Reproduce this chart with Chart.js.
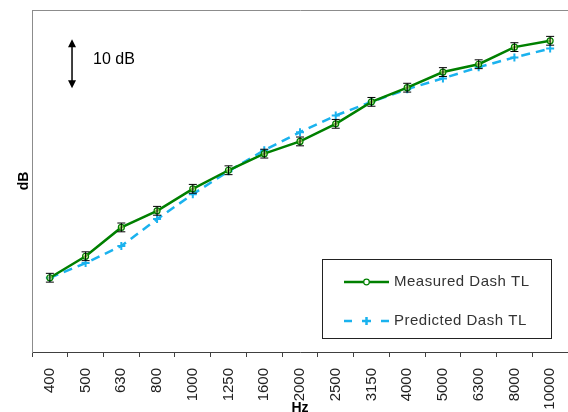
<!DOCTYPE html>
<html lang="en">
<head>
  <meta charset="UTF-8">
  <title>Dash TL</title>
  <style>
    html, body { margin: 0; padding: 0; background: #fff; }
    #chart { display: block; }
  </style>
</head>
<body>
  <canvas id="chart" width="568" height="412"></canvas>

  <script src="https://cdn.jsdelivr.net/npm/chart.js@4.4.1/dist/chart.umd.min.js"></script>
  <script>
    // third-octave bands, values in dB (y axis has no tick labels, only the 10 dB marker)
    const freqs = ['400', '500', '630', '800', '1000', '1250', '1600', '2000', '2500', '3150', '4000', '5000', '6300', '8000', '10000'];
    const measured = [15.2, 19.6, 25.5, 28.9, 33.4, 37.2, 40.6, 43.1, 46.7, 51.2, 54.1, 57.3, 58.9, 62.4, 63.7];
    const measuredErr = [0.9, 0.9, 0.9, 0.9, 0.9, 0.9, 0.9, 0.9, 0.9, 0.9, 0.9, 0.9, 0.9, 0.9, 0.9];
    const predicted = [15.2, 18.2, 21.7, 27.2, 32.3, 37.0, 41.3, 45.0, 48.4, 51.2, 53.8, 56.0, 58.3, 60.3, 62.1];
    const scaleMark = [54, 64]; // the "10 dB" arrow

    const FONT = '"Liberation Sans", Arial, sans-serif';
    const GREEN = '#008000';
    const BLUE = '#1ab2ee';

    const errorBars = {
      id: 'errorBars',
      afterDatasetsDraw(chart) {
        const {ctx, scales: {y}} = chart;
        const meta = chart.getDatasetMeta(0);
        ctx.save();
        ctx.strokeStyle = '#000';
        ctx.lineWidth = 1;
        meta.data.forEach((pt, i) => {
          const top = y.getPixelForValue(measured[i] + measuredErr[i]);
          const bot = y.getPixelForValue(measured[i] - measuredErr[i]);
          ctx.beginPath();
          ctx.moveTo(pt.x, top); ctx.lineTo(pt.x, bot);
          ctx.moveTo(pt.x - 4, top); ctx.lineTo(pt.x + 4, top);
          ctx.moveTo(pt.x - 4, bot); ctx.lineTo(pt.x + 4, bot);
          ctx.stroke();
        });
        ctx.restore();
      }
    };

    const extras = {
      id: 'extras',
      afterDraw(chart) {
        const {ctx, chartArea: a, scales: {x, y}} = chart;
        ctx.save();

        // 10 dB marker
        const ax = x.getPixelForValue(0.62);
        const y1 = y.getPixelForValue(scaleMark[1]);
        const y0 = y.getPixelForValue(scaleMark[0]);
        ctx.strokeStyle = '#000';
        ctx.fillStyle = '#000';
        ctx.lineWidth = 1.5;
        ctx.beginPath();
        ctx.moveTo(ax, y1 + 6); ctx.lineTo(ax, y0 - 6);
        ctx.stroke();
        ctx.beginPath();
        ctx.moveTo(ax, y1); ctx.lineTo(ax - 4, y1 + 8); ctx.lineTo(ax + 4, y1 + 8); ctx.closePath();
        ctx.moveTo(ax, y0); ctx.lineTo(ax - 4, y0 - 8); ctx.lineTo(ax + 4, y0 - 8); ctx.closePath();
        ctx.fill();
        ctx.font = '16px ' + FONT;
        ctx.textBaseline = 'middle';
        ctx.fillText('10 dB', ax + 21, (y0 + y1) / 2 - 4);

        // legend box
        const bx = a.right - 246, by = a.bottom - 93;
        ctx.fillStyle = '#fff';
        ctx.fillRect(bx, by, 229, 79);
        ctx.strokeStyle = '#222';
        ctx.lineWidth = 1;
        ctx.strokeRect(bx + 0.5, by + 0.5, 229, 79);

        const lx = bx + 22, r1 = by + 23, r2 = by + 62;
        ctx.strokeStyle = GREEN;
        ctx.lineWidth = 2.5;
        ctx.beginPath(); ctx.moveTo(lx, r1); ctx.lineTo(lx + 45, r1); ctx.stroke();
        ctx.lineWidth = 1.2;
        ctx.fillStyle = '#fff';
        ctx.beginPath(); ctx.arc(lx + 22.5, r1, 2.8, 0, Math.PI * 2); ctx.fill(); ctx.stroke();

        ctx.strokeStyle = BLUE;
        ctx.lineWidth = 2.5;
        ctx.beginPath();
        ctx.moveTo(lx, r2); ctx.lineTo(lx + 8, r2);
        ctx.moveTo(lx + 37, r2); ctx.lineTo(lx + 45, r2);
        ctx.moveTo(lx + 18, r2); ctx.lineTo(lx + 27, r2);
        ctx.moveTo(lx + 22.5, r2 - 4); ctx.lineTo(lx + 22.5, r2 + 4);
        ctx.stroke();

        ctx.fillStyle = '#333';
        ctx.font = '15px ' + FONT;
        ctx.letterSpacing = '0.5px';
        ctx.textBaseline = 'middle';
        ctx.fillText('Measured Dash TL', lx + 50, r1);
        ctx.fillText('Predicted Dash TL', lx + 50, r2);

        ctx.restore();
      }
    };

    const chart = new Chart(document.getElementById('chart'), {
      type: 'line',
      data: {
        labels: freqs,
        datasets: [{
          label: 'Measured Dash TL',
          data: measured,
          borderColor: GREEN,
          borderWidth: 2.5,
          pointStyle: 'circle',
          pointRadius: 3,
          pointBorderWidth: 1.2,
          pointBorderColor: GREEN,
          pointBackgroundColor: 'rgba(200,230,120,0.6)',
          tension: 0
        }, {
          label: 'Predicted Dash TL',
          data: predicted,
          borderColor: BLUE,
          borderWidth: 2.5,
          borderDash: [9, 6],
          pointStyle: 'cross',
          pointRadius: 4,
          pointBorderWidth: 2,
          pointBorderColor: BLUE,
          tension: 0
        }]
      },
      options: {
        responsive: false,
        animation: false,
        events: [],
        layout: { autoPadding: false, padding: { left: 0, top: 10, right: -1, bottom: -6 } },
        plugins: { legend: { display: false }, tooltip: { enabled: false } },
        scales: {
          x: {
            offset: true,
            afterFit(s) { s.height = 66; s.paddingLeft = 0; s.paddingRight = 0; },
            grid: { display: true, offset: true, drawOnChartArea: false, drawTicks: true, tickLength: 5, color: '#404040' },
            border: { color: '#404040', width: 1 },
            ticks: {
              autoSkip: false, maxRotation: 90, minRotation: 90, padding: 11,
              color: '#222', font: { family: FONT, size: 15 }
            },
            title: {
              display: true, text: 'Hz', color: '#000',
              font: { family: FONT, size: 14, weight: 'bold', lineHeight: 1 },
              padding: { top: 0, bottom: 3 }
            }
          },
          xTop: {
            type: 'category',
            position: 'top',
            afterFit(s) { s.height = 0; s.paddingLeft = 0; s.paddingRight = 0; },
            grid: { display: false, drawTicks: false },
            border: { display: true, color: '#8c8c8c', width: 1 },
            ticks: { display: false }
          },
          y: {
            min: 0,
            max: 70,
            afterFit(s) { s.width = 32; },
            grid: { display: false, drawTicks: false },
            border: { color: '#8c8c8c', width: 1 },
            ticks: { display: false },
            title: {
              display: true, text: 'dB', color: '#000',
              font: { family: FONT, size: 14, weight: 'bold', lineHeight: 1 },
              padding: { top: 17, bottom: 0 }
            }
          }
        }
      },
      plugins: [errorBars, extras]
    });
  </script>
</body>
</html>
